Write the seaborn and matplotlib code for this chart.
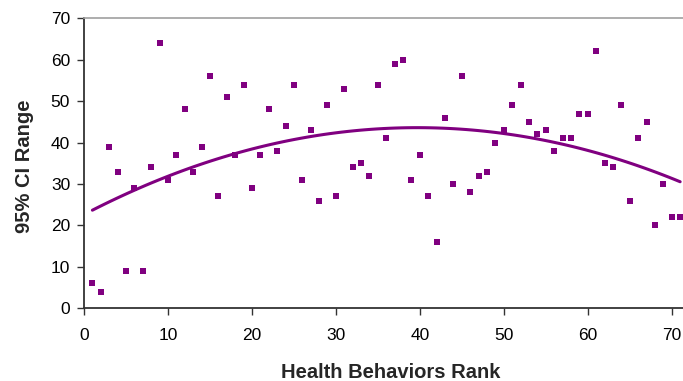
import matplotlib

matplotlib.use("Agg")
import matplotlib.pyplot as plt
import seaborn as sns

# Health Behaviors rank (1-71) vs. width of the 95% CI
RANK = [1, 2, 3, 4, 5, 6, 7, 8, 9, 10, 11, 12, 13, 14, 15, 16, 17, 18,
        19, 20, 21, 22, 23, 24, 25, 26, 27, 28, 29, 30, 31, 32, 33, 34, 35,
        36, 37, 38, 39, 40, 41, 42, 43, 44, 45, 46, 47, 48, 49, 50, 51, 52,
        53, 54, 55, 56, 57, 58, 59, 60, 61, 62, 63, 64, 65, 66, 67, 68, 69,
        70, 71]
CI_RANGE = [6, 4, 39, 33, 9, 29, 9, 34, 64, 31, 37, 48, 33, 39, 56, 27, 51, 37,
            54, 29, 37, 48, 38, 44, 54, 31, 43, 26, 49, 27, 53, 34, 35, 32, 54,
            41, 59, 60, 31, 37, 27, 16, 46, 30, 56, 28, 32, 33, 40, 43, 49, 54,
            45, 42, 43, 38, 41, 41, 47, 47, 62, 35, 34, 49, 26, 41, 45, 20, 30,
            22, 22]
Y_TICKS = [0, 10, 20, 30, 40, 50, 60, 70]
X_TICKS = [0, 10, 20, 30, 40, 50, 60, 70]

PURPLE = "#800080"

sns.set_style("ticks")
plt.rcParams["font.family"] = ["Liberation Sans", "DejaVu Sans"]

W, H = 683, 381
fig = plt.figure(figsize=(W / 100, H / 100), dpi=100)
ax = fig.add_axes([84 / W, 72.7 / H, 599 / W, 290 / H])
ax.set_xlim(0, 71.34)
ax.set_ylim(0, 70)

# second-order polynomial trend line fitted by seaborn
sns.regplot(
    x=RANK,
    y=CI_RANGE,
    order=2,
    ci=None,
    marker="s",
    ax=ax,
    scatter_kws={"s": 22, "color": PURPLE, "linewidths": 0, "alpha": 1},
    line_kws={"color": PURPLE, "lw": 2.2},
)

ax.set_xlim(0, 71.34)
ax.set_ylim(0, 70)
ax.set_xticks(X_TICKS)
ax.set_yticks(Y_TICKS)
ax.tick_params(axis="both", direction="out", length=5, width=1, colors="#333333",
               labelcolor="black", labelsize=12.5)
ax.tick_params(axis="x", pad=9)
ax.tick_params(axis="y", pad=5)

for side in ("left", "bottom"):
    ax.spines[side].set_color("#333333")
    ax.spines[side].set_linewidth(1.3)
ax.spines["top"].set_visible(True)
ax.spines["top"].set_color("#a0a0a0")
ax.spines["top"].set_linewidth(1.2)
ax.spines["right"].set_visible(False)

ax.set_xlabel("Health Behaviors Rank", fontsize=14.5, fontweight="bold")
ax.set_ylabel("95% CI Range", fontsize=14.5, fontweight="bold")
ax.xaxis.set_label_coords(0.5125, -0.19)
ax.yaxis.set_label_coords(-0.083, 0.49)

fig.savefig("out.png", dpi=100)
